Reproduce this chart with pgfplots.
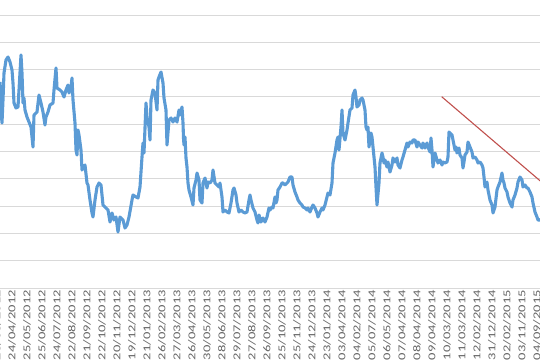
\documentclass[border=0pt]{standalone}
\usepackage{fontspec}
\setmainfont{Carlito}
\newfontfamily\lblfont[FakeStretch=1.38]{Carlito}
\usepackage{pgfplots}
\pgfplotsset{compat=1.18}
\definecolor{xlblue}{HTML}{5B9BD5}
\definecolor{xlred}{HTML}{C0504D}
\definecolor{gridgray}{HTML}{D9D9D9}
\definecolor{lblgray}{HTML}{666666}
\begin{document}
\begin{tikzpicture}
\useasboundingbox (0,0) rectangle (540bp,360bp);
\clip (0,0) rectangle (540bp,360bp);
\begin{axis}[
  scale only axis,
  width=560bp, height=288bp,
  at={(-10bp,360bp)}, anchor=north west,
  xmin=-10, xmax=550,
  ymin=0, ymax=288,
  y dir=reverse,
  axis line style={draw=none},
  ytick={15,42.3,69.6,96.9,124.2,151.5,178.8,206.1,233.4,260.7,288},
  yticklabels={},
  ymajorgrids,
  grid style={gridgray, line width=1bp},
  major tick length=0pt,
  xtick={-3,12,...,537},
  xticklabels={23/03/2012,24/04/2012,25/05/2012,25/06/2012,24/07/2012,22/08/2012,21/09/2012,22/10/2012,20/11/2012,19/12/2012,21/01/2013,26/02/2013,27/03/2013,26/04/2013,30/05/2013,28/06/2013,29/07/2013,27/08/2013,26/09/2013,25/10/2013,25/11/2013,24/12/2013,23/01/2014,03/04/2014,04/02/2014,05/07/2014,06/05/2014,07/04/2014,08/04/2014,09/04/2014,10/03/2014,11/03/2014,12/02/2014,31/12/2014,02/02/2015,03/11/2015,04/09/2015},
  xticklabel style={rotate=90, anchor=east, font=\lblfont\fontsize{10.5bp}{12bp}\selectfont, text=lblgray, inner sep=1bp, xshift=-1bp},
  xtick pos=bottom,
]
\addplot[xlblue, line width=3.1bp, line join=round] coordinates {
(0,82)(1,110)(2,123)(3,100)(4,73)(6,60)(8,57)(10,62)(12,70)(13,83)(14,103)(16,108)(18,107)(19,90)(21,55)(22,73)(23,103)(24,98)(25,110)(27,117)(29,122)(31,127)(33,147)(34,115)(37,112)(39,95)(41,103)(43,112)(45,125)(46,117)(48,112)(50,105)(53,103)(54,90)(56,68)(57,88)(60,90)(62,92)(64,97)(66,90)(68,85)(69,93)(71,87)(72,78)(73,100)(75,123)(76,150)(77,155)(78,130)(79,135)(81,150)(82,170)(83,168)(85,165)(87,183)(88,185)(90,200)(92,213)(93,217)(95,200)(97,187)(99,183)(101,185)(102,195)(103,205)(106,208)(108,210)(110,222)(112,213)(114,220)(116,217)(118,232)(120,217)(123,220)(125,228)(127,225)(129,217)(132,200)(133,195)(136,197)(138,198)(140,187)(142,157)(143,143)(144,153)(146,103)(147,117)(149,127)(150,140)(151,100)(153,90)(155,93)(157,110)(158,80)(159,77)(161,72)(163,83)(164,98)(166,110)(167,145)(169,120)(171,118)(173,122)(175,118)(177,122)(179,110)(180,115)(182,107)(183,123)(183.5,138)(184,145)(185,137)(186,158)(187,167)(188,183)(189,190)(191,197)(193,205)(194,188)(196,180)(197,173)(199,180)(200,200)(202,203)(203,183)(205,178)(207,188)(208,182)(210,183)(212,180)(213,170)(215,183)(217,185)(219,187)(220,183)(222,197)(223,212)(225,210)(227,212)(229,213)(231,203)(233,190)(234,188)(236,195)(237,203)(239,212)(241,210)(243,212)(245,213)(247,212)(249,200)(250,195)(251,200)(253,208)(255,212)(257,220)(258,223)(259,215)(261,222)(263,218)(265,222)(267,217)(269,208)(270,210)(272,207)(273,208)(275,197)(276,203)(277,200)(278,190)(280,187)(282,183)(283,183)(285,185)(287,183)(288,182)(290,177)(292,177)(293,185)(295,192)(297,197)(298,200)(300,203)(302,205)(303,207)(305,208)(307,210)(308,208)(310,212)(312,207)(313,205)(315,208)(317,213)(318,217)(320,212)(322,208)(323,210)(325,205)(327,197)(328,193)(330,195)(332,183)(333,163)(335,153)(337,140)(338,137)(339,150)(341,127)(342,110)(343,133)(345,140)(347,130)(348,123)(350,110)(352,108)(353,95)(355,90)(356,97)(357,107)(359,105)(360,100)(362,98)(363,100)(365,110)(366,127)(367,130)(368,127)(369,147)(371,133)(372,137)(373,147)(375,167)(376,187)(377,205)(379,183)(380,163)(382,153)(383,157)(384,163)(385,160)(387,167)(388,162)(390,172)(392,165)(393,158)(395,162)(397,158)(398,165)(400,168)(402,160)(403,157)(405,150)(407,143)(408,147)(410,142)(412,143)(413,140)(415,140)(417,147)(418,142)(420,145)(422,148)(423,143)(425,148)(427,143)(428,147)(430,152)(431,138)(432,150)(433,167)(435,153)(437,160)(438,163)(440,160)(442,165)(443,162)(445,163)(447,162)(448,157)(449,132)(450,133)(452,135)(453,140)(455,150)(456,147)(457,153)(459,148)(460,155)(462,158)(463,168)(464,162)(465,155)(467,152)(468,142)(470,147)(472,152)(473,158)(475,157)(477,160)(478,163)(480,162)(482,165)(483,168)(484,177)(485,187)(487,182)(488,190)(490,200)(492,205)(493,213)(495,207)(497,190)(498,187)(500,182)(502,173)(503,180)(504,183)(505,188)(507,192)(508,197)(510,203)(512,207)(513,200)(515,195)(517,188)(518,182)(520,177)(522,180)(523,187)(525,185)(527,188)(528,188)(530,192)(532,197)(533,203)(535,212)(537,217)(538,220)(540,220)(542,218)
};
\addplot[xlred, line width=1.1bp] coordinates {(441.7,96.7)(560,197.8)};
\end{axis}
\end{tikzpicture}
\end{document}
